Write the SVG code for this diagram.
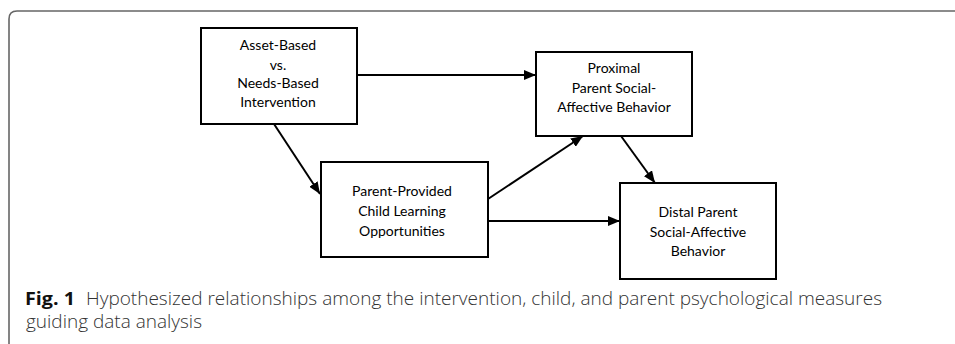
<svg xmlns="http://www.w3.org/2000/svg" width="955" height="344" viewBox="0 0 955 344">
<defs>
<marker id="ah" viewBox="0 0 12 10" refX="12" refY="5" markerWidth="12" markerHeight="10" markerUnits="userSpaceOnUse" orient="auto">
<path d="M0,0 L12,5 L0,10 Z" fill="#000"/>
</marker>
</defs>
<style>
.box{fill:#fff;stroke:#000;stroke-width:2}
.lbl{font-family:Lato,"Liberation Sans",sans-serif;font-size:14px;fill:#000;text-anchor:middle}
.edge{stroke:#000;stroke-width:2;fill:none;marker-end:url(#ah)}
.cap{font-family:"Open Sans","Noto Sans",sans-serif;font-size:18px;font-weight:300;fill:#333}
.capb{font-family:"Open Sans","Noto Sans",sans-serif;font-size:18px;font-weight:bold;fill:#111}
</style>
<rect width="955" height="344" fill="#fff"/>
<path d="M9,344 V19 Q9,11 17,11 H955" fill="none" stroke="#666" stroke-width="1.6"/>
<g id="connectors">
<line class="edge" x1="357" y1="75" x2="536" y2="75"/>
<line class="edge" x1="274" y1="124" x2="320" y2="194"/>
<line class="edge" x1="488" y1="199" x2="583" y2="136"/>
<line class="edge" x1="621" y1="136" x2="655" y2="183"/>
<line class="edge" x1="488" y1="221" x2="620" y2="221"/>
</g>
<g id="asset">
<rect class="box" x="201" y="28" width="156" height="96"/>
<text class="lbl" x="278" y="50">Asset-Based</text>
<text class="lbl" x="278" y="70">vs.</text>
<text class="lbl" x="278" y="88">Needs-Based</text>
<text class="lbl" x="278" y="107">Intervention</text>
</g>
<g id="proximal">
<rect class="box" x="536" y="52" width="156" height="84"/>
<text class="lbl" x="614" y="73">Proximal</text>
<text class="lbl" x="614" y="93">Parent Social-</text>
<text class="lbl" x="614" y="112">Affective Behavior</text>
</g>
<g id="learning">
<rect class="box" x="321" y="162" width="167" height="95"/>
<text class="lbl" x="402" y="196">Parent-Provided</text>
<text class="lbl" x="402" y="216">Child Learning</text>
<text class="lbl" x="402" y="236">Opportunities</text>
</g>
<g id="distal">
<rect class="box" x="620" y="183" width="156" height="96"/>
<text class="lbl" x="698" y="217">Distal Parent</text>
<text class="lbl" x="698" y="237">Social-Affective</text>
<text class="lbl" x="698" y="256">Behavior</text>
</g>
<text class="capb" x="25" y="305" textLength="50" lengthAdjust="spacingAndGlyphs">Fig. 1</text>
<text class="cap" x="86" y="305" textLength="796" lengthAdjust="spacingAndGlyphs">Hypothesized relationships among the intervention, child, and parent psychological measures</text>
<text class="cap" x="26" y="328" textLength="176" lengthAdjust="spacingAndGlyphs">guiding data analysis</text>
</svg>
